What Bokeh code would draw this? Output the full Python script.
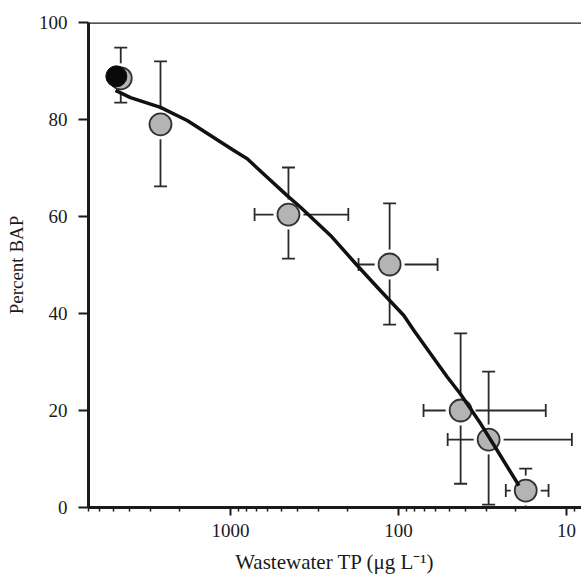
from bokeh.plotting import figure
from bokeh.models import (ColumnDataSource, Whisker, TeeHead, Range1d, FixedTicker,
                          NumeralTickFormatter, Span)
from bokeh.embed import file_html
from bokeh.resources import INLINE

# ---- data ----
tp_mean = [4500, 2610, 452, 113, 42.7, 29.1, 17.5]          # wastewater TP (ug/L)
bap_mean = [88.5, 79.0, 60.4, 50.1, 20.0, 14.0, 3.5]          # percent BAP
bap_low = [83.5, 66.2, 51.3, 37.7, 4.9, 0.6, 0.0]
bap_high = [94.8, 92.0, 70.1, 62.7, 35.9, 28.0, 8.0]

# horizontal error bars (only for some points)
tpx_bap = [60.4, 50.1, 20.0, 14.0, 3.5]
tpx_low = [199, 58.6, 13.3, 9.3, 12.8]
tpx_high = [719, 173, 71, 51, 23]

# black reference point
black_tp = [4780]
black_bap = [88.9]

# fitted curve, read along its path
curve_tp = [4836, 3936, 2610, 1810, 1315, 955, 795, 605, 460, 383, 254, 176,
            128, 93, 81, 64.5, 51.3, 42.8, 32.5, 25.9, 19.2]
curve_bap = [86.0, 84.5, 82.5, 79.8, 76.7, 73.6, 71.9, 68.1, 64.3, 61.9, 56.1, 49.9,
             44.7, 39.6, 36.5, 31.7, 26.9, 23.4, 17.3, 11.8, 4.5]

x_ticks = [10, 100, 1000]
x_minor = [m * 10 ** e for e in (0, 1, 2, 3) for m in range(2, 10)]
y_ticks = [0, 20, 40, 60, 80, 100]

FONT = "Liberation Serif"
INK = "#1a1a1a"

p = figure(width=581, height=581, x_axis_type="log", output_backend="svg",
           toolbar_location=None, x_range=Range1d(7000, 8.15), y_range=Range1d(0, 100),
           min_border_left=88, min_border_right=0, min_border_top=22, min_border_bottom=74)
p.outline_line_color = None
p.grid.visible = False
p.background_fill_color = "white"
p.border_fill_color = "white"

# axes styling
for ax in (p.xaxis[0], p.yaxis[0]):
    ax.axis_line_width = 3
    ax.axis_line_color = INK
    ax.major_tick_line_width = 2
    ax.major_tick_line_color = INK
    ax.major_tick_in = 0
    ax.major_label_text_font = FONT
    ax.major_label_text_font_size = "19px"
    ax.major_label_text_color = INK
    ax.axis_label_text_font = FONT
    ax.axis_label_text_font_size = "19px"
    ax.axis_label_text_font_style = "normal"
    ax.axis_label_text_color = INK

p.xaxis.ticker = FixedTicker(ticks=x_ticks, minor_ticks=x_minor)
p.xaxis.formatter = NumeralTickFormatter(format="0")
p.xaxis.major_tick_out = 8
p.xaxis.minor_tick_out = 4
p.xaxis.minor_tick_in = 0
p.xaxis.minor_tick_line_width = 1.5
p.xaxis.minor_tick_line_color = INK
p.xaxis.major_label_standoff = 8
p.xaxis.axis_label = "Wastewater TP (\u03bcg L\u207b\u00b9)"
p.xaxis.axis_label_text_font_size = "21px"
p.xaxis.axis_label_standoff = 10

p.yaxis.ticker = FixedTicker(ticks=y_ticks)
p.yaxis.major_tick_out = 10
p.yaxis.minor_tick_line_color = None
p.yaxis.major_label_standoff = 11
p.yaxis.axis_label = "Percent BAP"
p.yaxis.axis_label_standoff = 9

# top border line
p.add_layout(Span(location=100, dimension="width", line_color=INK, line_width=2.5))

# error bars
src_v = ColumnDataSource(dict(x=tp_mean, lo=bap_low, hi=bap_high))
src_h = ColumnDataSource(dict(y=tpx_bap, lo=tpx_low, hi=tpx_high))
for src, base, dim in ((src_v, "x", "height"), (src_h, "y", "width")):
    w = Whisker(source=src, base=base, lower="lo", upper="hi", dimension=dim,
                line_color="#2a2a2a", line_width=1.8,
                upper_head=TeeHead(size=13, line_width=1.8, line_color="#2a2a2a"),
                lower_head=TeeHead(size=13, line_width=1.8, line_color="#2a2a2a"))
    p.add_layout(w)

# white halo under markers
p.scatter(tp_mean, bap_mean, size=30, fill_color="white", line_color=None)

# data markers
p.scatter(tp_mean, bap_mean, size=22, fill_color="#b4b4b4", line_color="#333333",
          line_width=1.8)
p.scatter(black_tp, black_bap, size=21, fill_color="#0a0a0a", line_color="#0a0a0a",
          line_width=1)

# fitted curve (drawn over the markers)
p.line(curve_tp, curve_bap, line_color="#111111", line_width=3.5, line_join="round")

open("out.html", "w").write(file_html(p, INLINE))
